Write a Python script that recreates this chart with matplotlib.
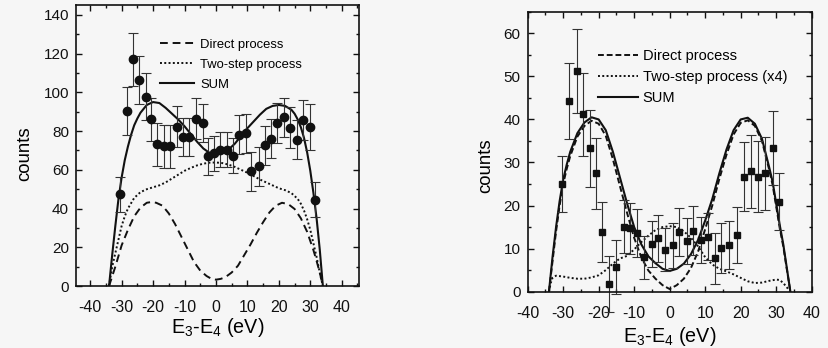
import matplotlib
matplotlib.use('Agg')
import matplotlib.pyplot as plt
from matplotlib.ticker import MultipleLocator

plt.rcParams['font.family'] = ['Liberation Sans', 'DejaVu Sans']
plt.rcParams['mathtext.default'] = 'regular'
plt.rcParams['axes.unicode_minus'] = False

# ---- left panel data ----
left_x = [-30.6, -28.3, -26.3, -24.4, -22.3, -20.5, -18.7, -16.6, -14.6, -12.3, -10.6, -8.5, -6.4, -4.2, -2.4, -0.6,
          1.3, 3.4, 5.3, 7.4, 9.6, 11.3, 13.6, 15.5, 17.6, 19.5, 21.7, 23.6, 25.7, 27.8, 29.9, 31.6]
left_y = [47.3, 90.5, 117, 106.4, 97.8, 86.1, 73.1, 72.1, 72.1, 82.3, 77, 77, 86.5, 84.2, 66.9, 68.6,
          70.3, 70.3, 67.4, 78.2, 78.9, 59.3, 61.8, 72.6, 76, 84.2, 87.1, 81.7, 75.5, 85.8, 82, 44.6]
left_err = [9, 12.5, 13.5, 12.5, 12, 11, 11, 11, 11, 10.5, 10, 10, 10.5, 10, 9.5, 9,
            9, 9, 9, 10, 10, 10, 10, 10, 10, 10.5, 10, 10.5, 10, 10.5, 12, 9]

left_direct_x = [-34, -33, -32, -30, -28, -26, -24, -22, -20.5, -19, -17, -15, -13, -11, -9, -7, -5, -3, -1.5, 0,
                 1.5, 3, 5, 7, 9, 11, 13, 15, 17, 19, 21, 23, 25, 27, 29, 31, 32, 33, 34]
left_direct_y = [0, 5, 10, 21, 29, 36, 40.5, 43, 43.4, 43, 41.5, 37.5, 32, 25.5, 19, 12.5, 8, 5.2, 3.8, 3.3,
                 3.7, 4.6, 7, 10.5, 16, 21.5, 27.5, 33, 38, 41.5, 43, 42.3, 39.8, 35, 28, 18.5, 13, 7, 0]

left_two_x = [-34, -33, -32, -31, -30, -29, -28, -26, -24, -22, -20, -18, -16, -14, -12, -10, -8, -6, -4, -2, 0,
              2, 4, 6, 8, 10, 12, 14, 16, 18, 20, 22, 24, 26, 27, 28, 29, 30, 31, 32, 33, 34]
left_two_y = [0, 10, 17, 24, 31, 36, 40, 45.5, 48.5, 50, 51, 52, 53.5, 55.5, 57.5, 59.5, 61, 62.3, 63.2, 63.7, 63.8,
              63.5, 62.7, 61.5, 60, 58.5, 56.8, 55, 53.5, 52, 50.5, 49.5, 48, 45, 42.5, 39, 34.5, 29, 22, 15, 7, 0]

left_sum_x = [-34, -33, -32, -31, -30, -29, -28, -27, -26, -25, -24, -22, -20, -18, -16, -14, -12, -10, -8, -6, -4, -2, 0,
              2, 4, 6, 8, 10, 12, 14, 16, 18, 20, 22, 24, 25, 26, 27, 28, 29, 30, 31, 32, 33, 34]
left_sum_y = [0, 16, 31, 45, 56, 65, 72, 78, 83, 86.5, 89.5, 93.5, 95, 94.5, 92, 89, 86, 82.5, 78.5, 74.5, 71, 68.7, 68,
              68.7, 70.5, 73.5, 77.5, 81.5, 85, 88.5, 91.5, 93, 93.5, 93, 91, 89, 86, 82, 76.5, 69, 59.5, 48, 35, 19, 0]

# ---- right panel data ----
right_x = [-30.4, -28.3, -26.2, -24.5, -22.5, -20.8, -19.2, -17.0, -15.1, -12.9, -11.2, -9.1, -7.2, -5.1, -3.2, -1.3,
           0.8, 2.7, 4.8, 6.7, 8.7, 10.7, 12.8, 14.6, 16.8, 18.9, 20.9, 22.9, 25.0, 26.9, 29.2, 30.8]
right_y = [25, 44.3, 51.3, 41.2, 33.3, 27.5, 13.9, 1.8, 5.7, 15.1, 14.7, 13.7, 8, 11.1, 12.4, 9.7,
           10.8, 13.9, 11.8, 14.2, 12, 12.8, 7.7, 10.2, 10.8, 13.2, 26.7, 28, 26.7, 27.5, 33.4, 20.9]
right_err = [6.5, 8.8, 9.7, 9.7, 9, 8.3, 7, 6.5, 6.3, 6.2, 6, 5.6, 5, 5.3, 5.5, 5,
             5.2, 5.6, 5.3, 5.6, 5.4, 5.5, 6, 5.8, 5.5, 6.5, 8, 8.5, 8.3, 8.5, 8.6, 6.6]

right_curve_x = [-34, -33, -32, -31, -30, -29, -28, -26, -24, -22, -20, -18, -16, -14, -12, -10, -8, -6, -4, -2, 0,
                 2, 4, 6, 8, 10, 12, 14, 16, 18, 20, 22, 24, 26, 28, 29, 30, 31, 32, 33, 34]
right_sum_y = [0, 8, 15, 21, 26, 29.5, 32.5, 36.8, 39.3, 40.5, 40, 37.5, 32.5, 26.5, 20.5, 15, 11, 8.2, 6.6, 5.3, 4.8,
               5.3, 6.5, 8.7, 12, 16.5, 21.5, 27.5, 33, 37.5, 40, 40.4, 39, 35.5, 29, 25.5, 20.5, 15.5, 11, 5.5, 0]
right_direct_y = [0, 7, 14, 20, 25, 28.5, 31.5, 36, 38.5, 39.7, 39, 36.2, 30.8, 24.5, 18.3, 12.5, 8, 4.9, 3, 1.5, 0.6,
                  1.5, 3, 5.5, 9.3, 14.5, 20, 26.2, 31.8, 36.5, 39.2, 39.8, 38.5, 35, 28.4, 24.8, 19.8, 14.8, 10.5, 5.2, 0]

right_two_x = [-34, -33.5, -33, -32, -30, -28, -26, -24, -22, -20, -18, -16, -14, -12, -10, -8, -6, -4, -2, 0,
               2, 4, 6, 8, 10, 12, 14, 16, 18, 20, 22, 24, 26, 28, 30, 31, 32, 33, 34]
right_two_y = [0, 2, 3.2, 3.7, 3.5, 3.2, 3.0, 3.0, 3.3, 3.8, 5, 6.5, 7.7, 8.3, 9.8, 11.5, 13, 14.3, 15, 15.2,
               15, 14, 12.5, 10.5, 8, 6.3, 5.3, 4.7, 4, 3.2, 2.4, 2, 2.1, 2.5, 2.8, 2.7, 2, 1, 0]

legend_left = ['Direct process', 'Two-step process', 'SUM']
legend_right = ['Direct process', 'Two-step process (x4)', 'SUM']

bg = '#f6f6f6'
ink = '#111111'

fig = plt.figure(figsize=(8.29, 3.48), dpi=100, facecolor=bg)
ax1 = fig.add_axes([0.0917, 0.178, 0.3414, 0.807], facecolor=bg)
ax2 = fig.add_axes([0.6365, 0.162, 0.3426, 0.804], facecolor=bg)


def style(ax, xmaj, ymaj):
    for s in ax.spines.values():
        s.set_linewidth(1.2)
        s.set_color(ink)
    ax.xaxis.set_major_locator(MultipleLocator(xmaj))
    ax.xaxis.set_minor_locator(MultipleLocator(xmaj / 2))
    ax.yaxis.set_major_locator(MultipleLocator(ymaj))
    ax.yaxis.set_minor_locator(MultipleLocator(ymaj / 2))
    ax.tick_params(which='both', direction='in', top=True, right=True, colors=ink, width=1)
    ax.tick_params(which='major', length=4)
    ax.tick_params(which='minor', length=2)
    ax.tick_params(axis='x', which='major', labelsize=11.5, pad=10)
    ax.tick_params(axis='y', which='major', labelsize=11, pad=5)
    ax.set_xlabel('E$_3$-E$_4$ (eV)', fontsize=14.2)
    ax.set_ylabel('counts', fontsize=13.4)


# left panel
ax1.plot(left_direct_x, left_direct_y, color=ink, lw=1.4, ls=(0, (4, 2.5)), label=legend_left[0])
ax1.plot(left_two_x, left_two_y, color=ink, lw=1.4, ls=(0, (1, 1.2)), label=legend_left[1])
ax1.plot(left_sum_x, left_sum_y, color=ink, lw=1.5, ls='-', label=legend_left[2])
ax1.errorbar(left_x, left_y, yerr=left_err, fmt='o', color=ink, ms=6, ecolor='#333333',
             elinewidth=0.8, capsize=3.5, capthick=0.8)
ax1.set_xlim(-44.5, 45.5)
ax1.set_ylim(0, 145)
style(ax1, 10, 20)
ax1.xaxis.set_label_coords(0.5, -0.105)
ax1.yaxis.set_label_coords(-0.15, 0.47)
ax1.legend(loc='upper left', bbox_to_anchor=(0.278, 0.90), frameon=False, fontsize=9.4,
           handlelength=2.6, handletextpad=0.5, labelspacing=0.6, borderaxespad=0)

# right panel
ax2.plot(right_curve_x, right_direct_y, color=ink, lw=1.4, ls=(0, (3, 1.5)), label=legend_right[0])
ax2.plot(right_two_x, right_two_y, color=ink, lw=1.4, ls=(0, (1, 1.2)), label=legend_right[1])
ax2.plot(right_curve_x, right_sum_y, color=ink, lw=1.5, ls='-', label=legend_right[2])
eb = ax2.errorbar(right_x, right_y, yerr=right_err, fmt='s', color=ink, ms=5, ecolor='#333333',
                  elinewidth=0.8, capsize=3.5, capthick=0.8)
for part in eb.lines[1] + eb.lines[2]:
    part.set_clip_on(False)
ax2.set_xlim(-40, 40)
ax2.set_ylim(0, 65)
style(ax2, 10, 10)
ax2.xaxis.set_label_coords(0.5, -0.12)
ax2.yaxis.set_label_coords(-0.118, 0.45)
ax2.legend(loc='upper left', bbox_to_anchor=(0.226, 0.889), frameon=False, fontsize=10.5,
           handlelength=2.75, handletextpad=0.34, labelspacing=0.5, borderaxespad=0)

fig.savefig('out.png', dpi=100, facecolor=bg)
